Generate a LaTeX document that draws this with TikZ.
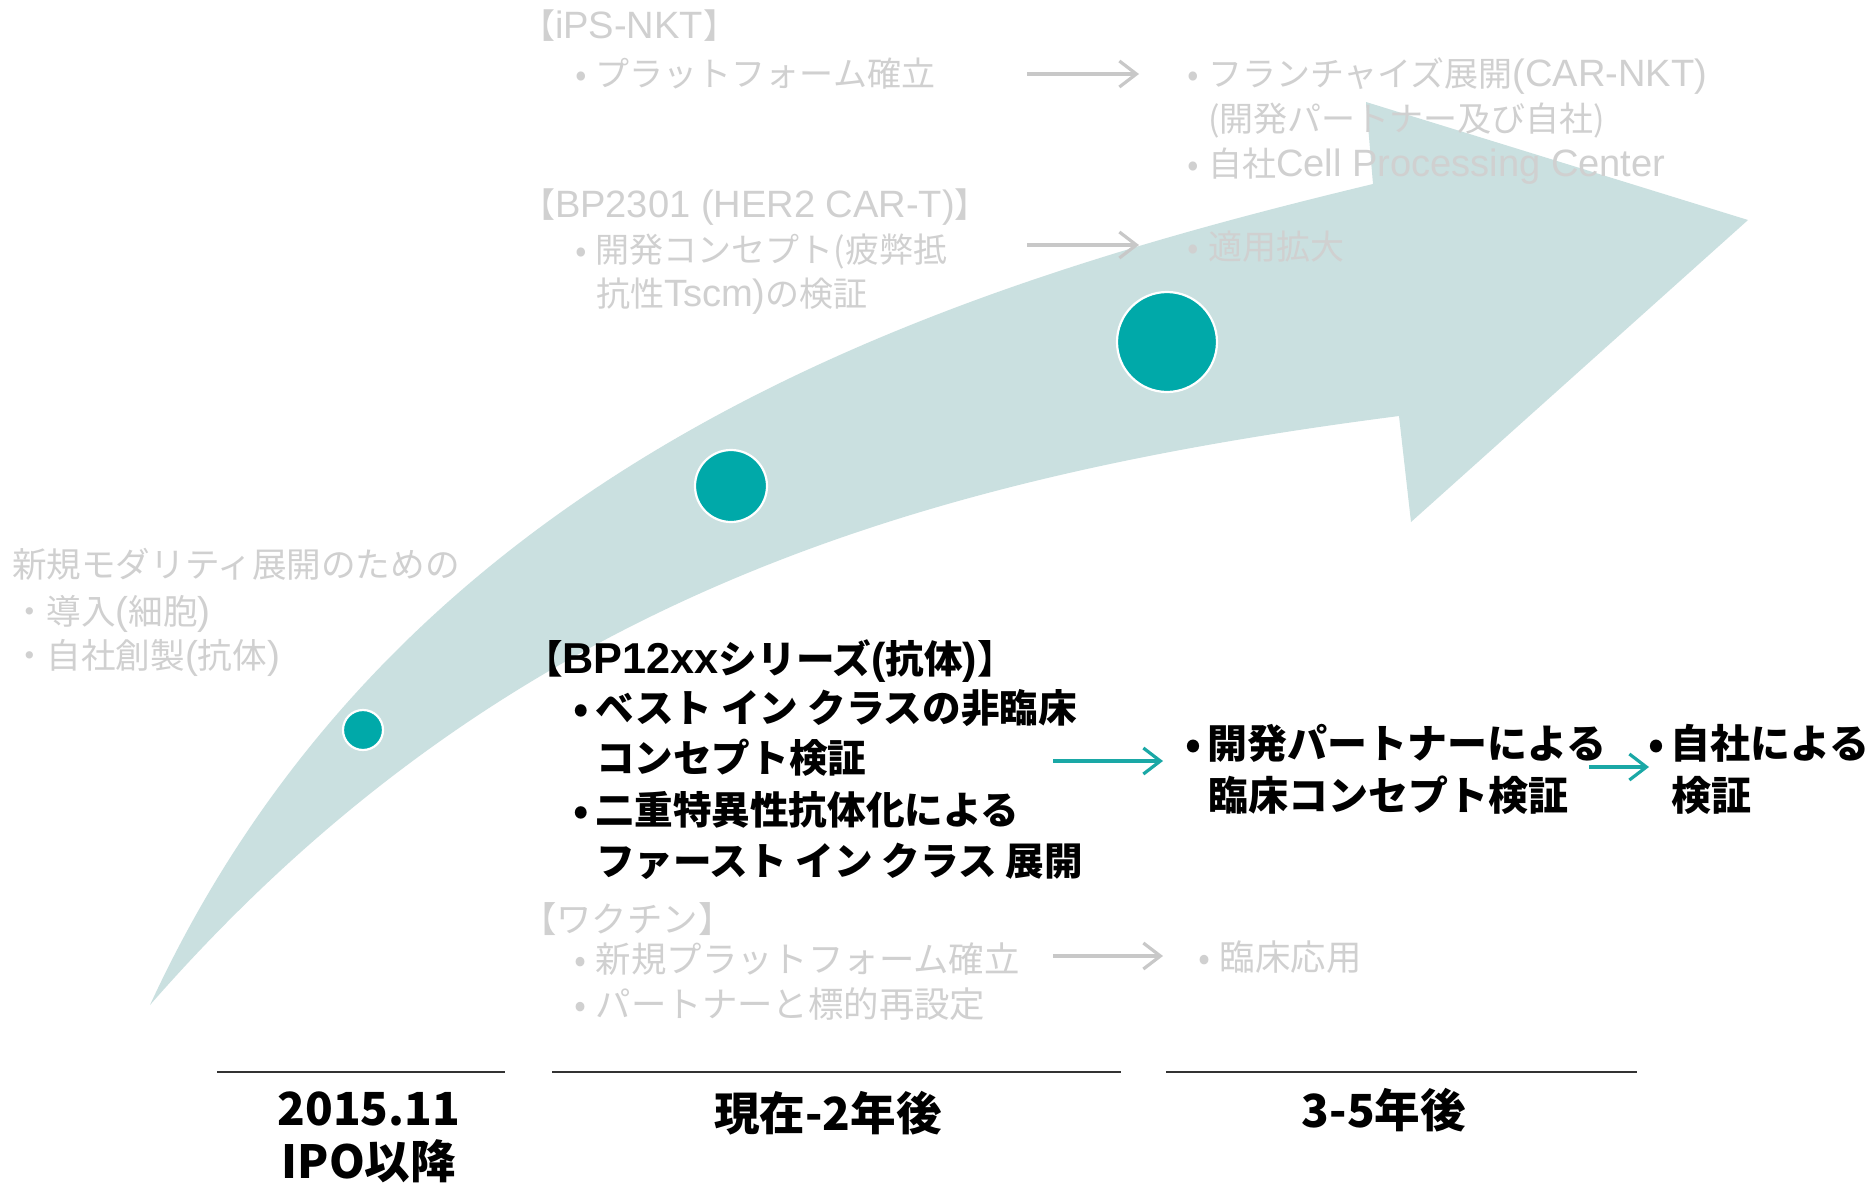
\documentclass[tikz,border=0pt]{standalone}
\usepackage{fontspec}
\setmainfont{Noto Sans CJK JP}
\newfontfamily\lat{Liberation Sans}[Scale=1.12]
\usetikzlibrary{arrows.meta}
\definecolor{arrowfill}{HTML}{CAE0E0}
\definecolor{dotc}{HTML}{00A9A9}
\definecolor{faint}{HTML}{D0D0D0}
\definecolor{tealarrow}{HTML}{1AA8A6}
\definecolor{garrowc}{HTML}{C8C8C8}
\newcommand\bul{\makebox[15pt][c]{•}}
\begin{document}
\begin{tikzpicture}[x=0.5pt,y=-0.5pt,
  every node/.style={inner sep=0pt, outer sep=0pt},
  txt/.style={anchor=west, text height=0.88em, text depth=0.12em},
  faintA/.style={txt, text=faint, font=\fontsize{17}{20}\selectfont},
  faintV/.style={txt, text=faint, font=\fontsize{17.7}{22}\selectfont},
  faintN/.style={txt, text=faint, font=\fontsize{17.3}{22}\selectfont},
  boldtxt/.style={txt, text=black, font=\fontsize{19.3}{24}\selectfont\bfseries},
  boldtxtB/.style={txt, text=black, font=\fontsize{20}{24}\selectfont\bfseries},
  period/.style={anchor=center, text=black, font=\fontsize{22.8}{26}\selectfont\bfseries},
  dotnode/.style={circle, fill=dotc, draw=white, line width=1.1pt},
  garrow/.style={draw=garrowc, line width=1.6pt, -{Straight Barb[length=8.5pt,width=13pt]}},
  tarrow/.style={draw=tealarrow, line width=1.6pt, -{Straight Barb[length=8.5pt,width=13pt]}},
  rule/.style={draw=black!80, line width=1.1pt}
]
\fill[white] (0,0) rectangle (1876,1184);
\useasboundingbox (0,0) rectangle (1876,1184);

% big arrow
\fill[arrowfill] (150,1005) .. controls (402,459) and (936,289) .. (1373,184)
  -- (1366,102) -- (1748,220) -- (1411,522) -- (1399,416)
  .. controls (903,480) and (499,606) .. (150,1005) -- cycle;

% milestones
\node[dotnode, minimum size=20pt] (c1) at (363,730) {};
\node[dotnode, minimum size=36pt] (c2) at (731,486) {};
\node[dotnode, minimum size=50pt] (c3) at (1167,342) {};

% iPS-NKT block
\node[faintA] (ipsT) at (521,31) {【{\lat iPS-NKT}】};
\node[faintA] (ips1) at (566,79) {\bul プラットフォーム確立};
\node[faintA] (fr1) at (1178,79) {\bul フランチャイズ展開{\lat (CAR-NKT)}};
\node[faintA] (fr2) at (1208,124) {(開発パートナー及び自社)};
\node[faintA] (fr3) at (1178,169) {\bul 自社{\lat Cell Processing Center}};
% BP2301 block
\node[faintA] (herT) at (521,210) {【{\lat BP2301 (HER2 CAR-T)}】};
\node[faintA] (her1) at (566,255) {\bul 開発コンセプト(疲弊抵};
\node[faintA] (her2) at (596,299) {抗性{\lat Tscm)}の検証};
\node[faintA] (tek) at (1178,252) {\bul 適用拡大};

% left block
\node[faintN] (mod0) at (12,570) {新規モダリティ展開のための};
\node[faintN] (mod1) at (12,617) {・導入{\lat (}細胞{\lat )}};
\node[faintN] (mod2) at (12,661) {・自社創製{\lat (}抗体{\lat )}};

% BP12xx block
\node[boldtxt] (bpT) at (524,666) {【{\lat BP12xx}シリーズ{\lat (}抗体{\lat )}】};
\node[boldtxt] (bp1) at (566,715) {\bul ベスト イン クラスの非臨床};
\node[boldtxt] (bp2) at (596,765) {コンセプト検証};
\node[boldtxt] (bp3) at (566,817) {\bul 二重特異性抗体化による};
\node[boldtxt] (bp4) at (596,868) {ファースト イン クラス 展開};
\node[boldtxtB] (pt1) at (1178,751) {\bul 開発パートナーによる};
\node[boldtxtB] (pt2) at (1208,803) {臨床コンセプト検証};
\node[boldtxtB] (js1) at (1641,751) {\bul 自社による};
\node[boldtxtB] (js2) at (1671,803) {検証};

% vaccine block
\node[faintV] (vT) at (521,925) {【ワクチン】};
\node[faintV] (v1) at (566,965) {\bul 新規プラットフォーム確立};
\node[faintV] (v2) at (566,1010) {\bul パートナーと標的再設定};
\node[faintV] (vr) at (1190,963) {\bul 臨床応用};

% connectors
\coordinate (ga1s) at (1027,74);  \coordinate (ga1e) at (1139,74);
\coordinate (ga2s) at (1027,245); \coordinate (ga2e) at (1139,245);
\coordinate (ga3s) at (1053,956); \coordinate (ga3e) at (1163,956);
\coordinate (ta1s) at (1053,761); \coordinate (ta1e) at (1163,761);
\coordinate (ta2s) at (1589,767); \coordinate (ta2e) at (1649,767);
\draw[garrow] (ga1s) -- (ga1e);
\draw[garrow] (ga2s) -- (ga2e);
\draw[garrow] (ga3s) -- (ga3e);
\draw[tarrow] (ta1s) -- (ta1e);
\draw[tarrow] (ta2s) -- (ta2e);

% timeline
\draw[rule] (217,1072) -- (505,1072);
\draw[rule] (552,1072) -- (1121,1072);
\draw[rule] (1166,1072) -- (1637,1072);
\node[period] (p1a) at (369,1109) {2015.11};
\node[period] (p1b) at (369,1161) {IPO以降};
\node[period] (p2) at (828,1113) {現在-2年後};
\node[period] (p3) at (1384,1110) {3-5年後};
\end{tikzpicture}
\end{document}
